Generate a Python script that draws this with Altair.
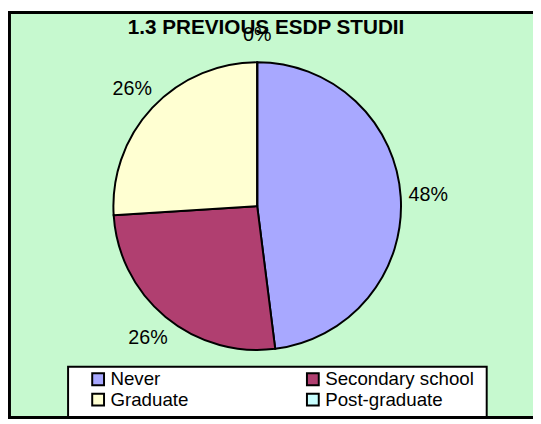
import altair as alt
import pandas as pd

categories = ["Never", "Secondary school", "Graduate", "Post-graduate"]
values = [48, 26, 26, 0]
colors = ["#A8A8FF", "#B03F70", "#FFFFD2", "#C8FFFF"]
legend_order = ["Never", "Graduate", "Secondary school", "Post-graduate"]
title_text = ["1.3 PREVIOUS ESDP STUDII"]

total = sum(values)
df = pd.DataFrame({
    "category": categories,
    "value": values,
    "order": list(range(len(categories))),
    "pct": [v / total for v in values],
})
color_of = dict(zip(categories, colors))

W, H = 533, 414
CX, CY = 253, 198
R = 146

color = alt.Color(
    "category:N",
    scale=alt.Scale(domain=legend_order, range=[color_of[c] for c in legend_order]),
    legend=alt.Legend(
        title=None, orient="none", legendX=82, legendY=364, columns=2,
        columnPadding=115, rowPadding=0, symbolType="square", symbolSize=144,
        symbolStrokeColor="black", symbolStrokeWidth=2,
        labelFont="Liberation Sans", labelFontSize=19, labelColor="black",
        labelOffset=3, padding=0,
    ),
)

deco = pd.DataFrame({"k": [0]})
frame = alt.Chart(deco).mark_rect(fill="#C6F9CF", stroke="black", strokeWidth=3).encode(
    x=alt.value(1.5), x2=alt.value(W + 20), y=alt.value(1.5), y2=alt.value(H - 1.5)
)
legend_box = alt.Chart(deco).mark_rect(fill="white", stroke="black", strokeWidth=2).encode(
    x=alt.value(61), x2=alt.value(486), y=alt.value(361), y2=alt.value(H - 2)
)

base = alt.Chart(df).encode(
    theta=alt.Theta("value:Q", stack=True),
    order=alt.Order("order:Q"),
)
pie = base.mark_arc(radius=R, stroke="black", strokeWidth=2).encode(
    color=color, x=alt.value(CX), y=alt.value(CY)
)
labels = base.mark_text(radius=174, font="Liberation Sans", fontSize=20, color="black").encode(
    text=alt.Text("pct:Q", format=".0%"), x=alt.value(CX), y=alt.value(CY)
)
title = alt.Chart(pd.DataFrame({"t": title_text})).mark_text(
    font="Liberation Sans", fontSize=21, fontWeight="bold", baseline="alphabetic",
    align="center", color="black"
).encode(text="t:N", x=alt.value(262), y=alt.value(23))

chart = alt.layer(frame, legend_box, pie, labels, title).properties(
    width=W, height=H, padding=0, autosize=alt.AutoSizeParams(type="none"),
    background="white",
).configure_view(stroke="transparent")

chart.save("out.html", embed_options={"renderer": "svg", "actions": False})
